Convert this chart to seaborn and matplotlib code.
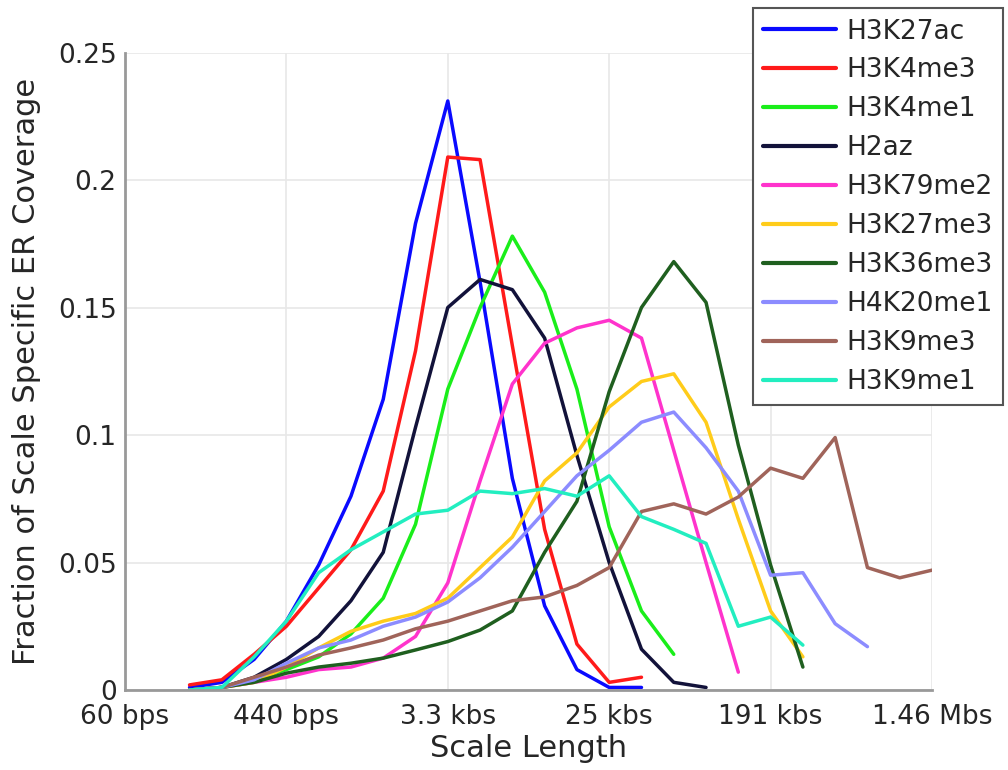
import pandas as pd
import seaborn as sns
import matplotlib.pyplot as plt

# scale index of the first point of every series (ticks sit on every 5th index)
first_scale = 2
tick_positions = [0, 5, 10, 15, 20, 25]
tick_labels = ["60 bps", "440 bps", "3.3 kbs", "25 kbs", "191 kbs", "1.46 Mbs"]

# fraction of scale specific ER coverage
h3k27ac = [0.001, 0.003, 0.012, 0.027, 0.049, 0.076, 0.114, 0.183, 0.231, 0.160,
           0.083, 0.033, 0.008, 0.001, 0.001]
h3k4me3 = [0.002, 0.004, 0.014, 0.025, 0.040, 0.055, 0.078, 0.133, 0.209, 0.208,
           0.135, 0.063, 0.018, 0.003, 0.005]
h3k4me1 = [0.000, 0.001, 0.004, 0.008, 0.013, 0.022, 0.036, 0.065, 0.118, 0.150,
           0.178, 0.156, 0.118, 0.064, 0.031, 0.014]
h2az = [0.000, 0.001, 0.005, 0.012, 0.021, 0.035, 0.054, 0.103, 0.150, 0.161,
        0.157, 0.138, 0.092, 0.050, 0.016, 0.003, 0.001]
h3k79me2 = [0.000, 0.001, 0.003, 0.005, 0.008, 0.009, 0.0125, 0.021, 0.042, 0.082,
            0.120, 0.136, 0.142, 0.145, 0.138, 0.094, 0.050, 0.007]
h3k27me3 = [0.000, 0.001, 0.003, 0.009, 0.0165, 0.023, 0.027, 0.030, 0.036, 0.048,
            0.060, 0.082, 0.093, 0.111, 0.121, 0.124, 0.105, 0.067, 0.031, 0.013]
h3k36me3 = [0.000, 0.001, 0.003, 0.0066, 0.009, 0.0105, 0.0125, 0.0157, 0.019, 0.0235,
            0.031, 0.054, 0.074, 0.117, 0.150, 0.168, 0.152, 0.096, 0.049, 0.009]
h4k20me1 = [0.000, 0.001, 0.004, 0.0105, 0.0165, 0.0196, 0.025, 0.0286, 0.0345, 0.044,
            0.056, 0.070, 0.084, 0.094, 0.105, 0.109, 0.095, 0.078, 0.045, 0.046,
            0.026, 0.017]
h3k9me3 = [0.000, 0.001, 0.005, 0.009, 0.0137, 0.0165, 0.0196, 0.024, 0.027, 0.031,
           0.035, 0.0365, 0.041, 0.048, 0.070, 0.073, 0.069, 0.0757, 0.087, 0.083,
           0.099, 0.048, 0.044, 0.047]
h3k9me1 = [0.000, 0.001, 0.013, 0.027, 0.046, 0.055, 0.062, 0.069, 0.0705, 0.078,
           0.077, 0.079, 0.076, 0.084, 0.068, 0.063, 0.0575, 0.025, 0.0286, 0.0176]

marks = ["H3K27ac", "H3K4me3", "H3K4me1", "H2az", "H3K79me2",
         "H3K27me3", "H3K36me3", "H4K20me1", "H3K9me3", "H3K9me1"]
series = [h3k27ac, h3k4me3, h3k4me1, h2az, h3k79me2,
          h3k27me3, h3k36me3, h4k20me1, h3k9me3, h3k9me1]
colors = ["#0a0aff", "#ff1a1a", "#1aee1a", "#12123a", "#ff33cc",
          "#ffcc1a", "#1f5f1f", "#8c8cff", "#a0645a", "#22eec0"]

# long table for seaborn
rows = []
for name, values in zip(marks, series):
    for k, v in enumerate(values):
        rows.append({"scale": first_scale + k, "coverage": v, "mark": name})
df = pd.DataFrame(rows)

sns.set_style("whitegrid")
plt.rcParams["font.family"] = ["DejaVu Sans"]

fig = plt.figure(figsize=(10.08, 7.70), dpi=100)
ax = fig.add_axes([0.124, 0.1039, 0.8006, 0.8279])

sns.lineplot(
    data=df, x="scale", y="coverage", hue="mark", hue_order=marks,
    palette=dict(zip(marks, colors)), estimator=None, sort=False,
    linewidth=2.5, ax=ax,
)

# axes
ax.set_xlim(0, 25)
ax.set_ylim(0, 0.25)
ax.set_xticks(tick_positions)
ax.set_xticklabels(tick_labels)
ax.set_yticks([0, 0.05, 0.1, 0.15, 0.2, 0.25])
ax.set_yticklabels(["0", "0.05", "0.1", "0.15", "0.2", "0.25"])
ax.grid(True, color="#e8e8e8", linewidth=1.2)
ax.tick_params(axis="both", direction="in", length=6, width=1.2, color="#888888",
               labelsize=19, labelcolor="#262626")
ax.tick_params(axis="x", pad=10)
ax.tick_params(axis="y", pad=6)
for side in ["top", "right"]:
    ax.spines[side].set_visible(False)
for side in ["left", "bottom"]:
    ax.spines[side].set_color("#999999")
    ax.spines[side].set_linewidth(2)
ax.set_xlabel("Scale Length", fontsize=22, color="#262626", labelpad=3)
ax.set_ylabel("Fraction of Scale Specific ER Coverage", fontsize=22,
              color="#262626", labelpad=12)

# legend up in the top right corner, partly outside the axes
handles, labels = ax.get_legend_handles_labels()
ax.get_legend().remove()
leg = fig.legend(
    handles, labels, loc="upper right", bbox_to_anchor=(1003 / 1008, 1 - 8 / 770),
    fontsize=19, frameon=True, fancybox=False, edgecolor="#555555",
    framealpha=1, handlelength=2.75, handletextpad=0.4, labelspacing=0.49,
    borderpad=0.4, borderaxespad=0,
)
leg.get_frame().set_linewidth(1.5)
for line in leg.get_lines():
    line.set_linewidth(3)
for text in leg.get_texts():
    text.set_color("#262626")

fig.savefig("out.png", dpi=100)
